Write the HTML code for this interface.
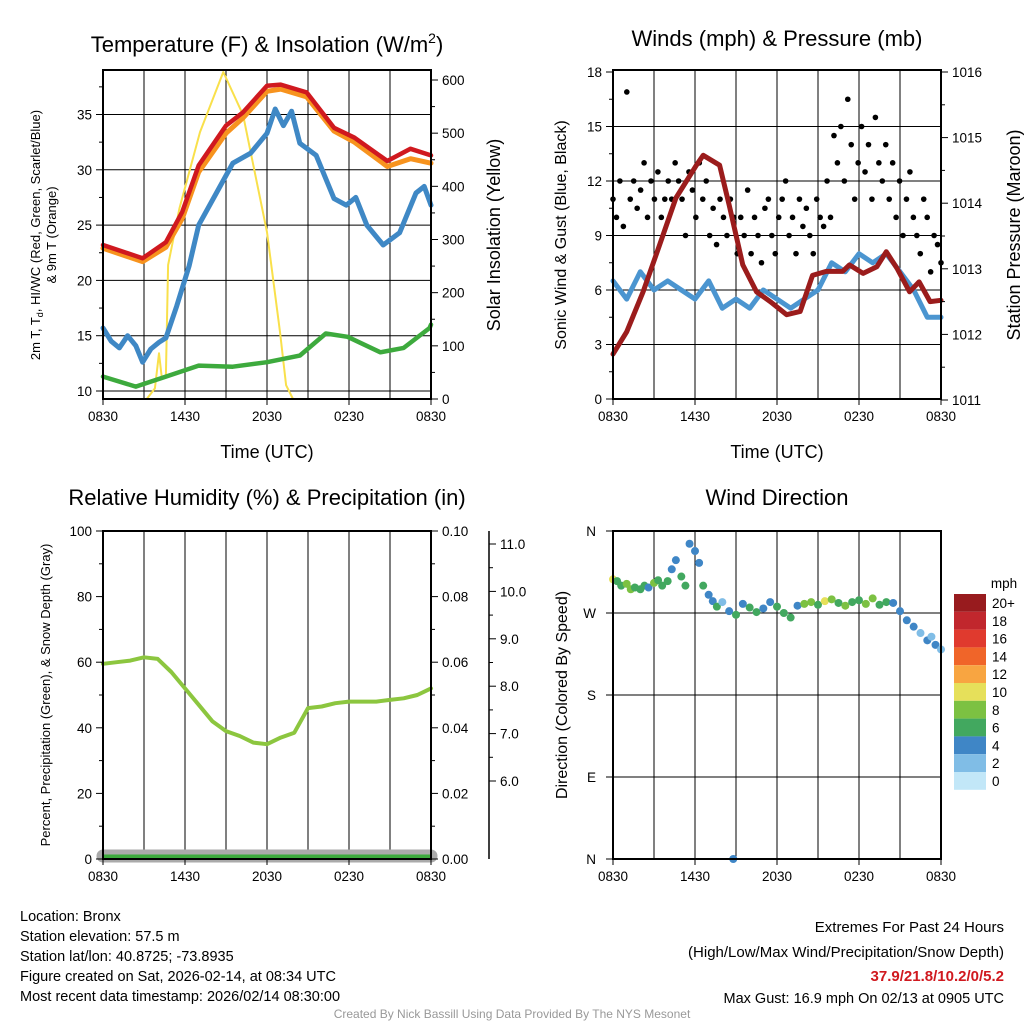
<!DOCTYPE html>
<html><head><meta charset="utf-8"><style>
body{margin:0;background:#fff;}
svg{display:block;font-family:"Liberation Sans",sans-serif;}
</style></head><body>
<svg id="c" width="1024" height="1024" viewBox="0 0 1024 1024"></svg>
<script>
// ---------- DATA ----------
const hoursT=[0,2.9,4.6,5.8,7,9,10.25,12,13,14.9,16.9,18.4,20.8,22.5,24];
const tempRed=[23.2,22.0,23.45,26.2,30.4,34,35.2,37.6,37.7,37,33.8,32.9,30.8,31.9,31.3];
const tempOrange=[22.9,21.7,23.0,25.6,29.8,33.3,34.7,37.1,37.3,36.6,33.5,32.5,30.3,31.0,30.6];
const hoursB=[0,0.6,1.2,1.8,2.4,2.9,3.5,4.1,4.6,5.4,6.3,7,8.3,9.5,10.8,12,12.6,13.2,13.8,14.4,15.6,16.9,17.8,18.5,19.3,20.5,21.7,22.9,23.5,24];
const hiwcBlue=[15.7,14.5,13.9,15,14.1,12.6,13.8,14.4,14.8,17.7,21.3,25,27.9,30.6,31.5,33.3,35.5,34,35.3,32.4,31.3,27.4,26.8,27.5,25,23.2,24.3,27.9,28.5,26.8];
const hoursG=[0,2.4,4.6,7,9.5,12,14.4,16.3,17.9,20.3,22,23.9,24];
const dewGreen=[11.3,10.4,11.3,12.3,12.2,12.6,13.2,15.2,14.9,13.5,13.9,15.7,16];
const hoursS=[0,3.2,3.8,4.1,4.3,4.6,4.76,5.6,7.1,8.8,10.25,12,12.95,13.4,13.9,24];
const solar=[0,0,20,86,40,45,252,359,502,615,534,314,126,26,0,0];
const hoursW=[0,1,2,3,4,5,6,7,8,9,10,11,12,13,14,15,16,17,18,19,20,21,22,23,24];
const windBlue=[6.5,5.5,7,6,6.5,6,5.5,6.5,5,5.5,5,6,5.5,5,5.5,6,7.5,7,8,7.5,8,7,6,4.5,4.5];
const hoursP=[0,1,2.2,3.4,4.6,6.1,6.6,7.8,8.5,9.5,10.5,11.5,12.7,13.7,14.6,15.6,16.8,17.3,18.3,19.3,20,20.8,21.7,22.4,23.2,24];
const pressure=[1011.7,1012.04,1012.65,1013.36,1014.08,1014.58,1014.73,1014.58,1013.97,1013.06,1012.65,1012.5,1012.3,1012.35,1012.9,1012.96,1012.96,1013.06,1012.93,1013.03,1013.26,1013.0,1012.65,1012.8,1012.5,1012.52];
const gusts=[11,10,12,9.5,16.9,11,12,10.5, 11.5,13,10,12,11,12.5,10,11, 12,11,13,12,11,9,12.5,11.5, 10,13,11,12,9,10.5,8.5,11, 10,9,11,10,8,10,9,11.5, 8,10,9,7.5,10.5,11,9,8, 10,11,12,9,10,8,11,9.5, 10.5,9,8,11,10,9.5,12,10, 14.5,13,15,12,16.5,14,11,13, 15,12.5,14,11,15.5,13,12,14, 11,13,10,12,9,11,12.5,10, 9,8,11,10,7,9,8.5,7.5];
const hoursH=[0,1,2,3,4,5,6,7,8,9,10,11,12,13,14,15,16,17,18,19,20,21,22,23,24];
const rh=[59.5,60,60.5,61.5,61,57,52,47,42,39,37.5,35.5,35,37,38.5,46,46.5,47.5,48,48,48,48.5,49,50,52];
const dirTimes=[0,0.3,0.6,1,1.3,1.6,2,2.3,2.6,3,3.3,3.6,4,4.3,4.6,5,5.3,5.6,6,6.3,6.6,7,7.3,7.6,8,8.5,8.8,9,9.5,10,10.5,11,11.5,12,12.5,13,13.5,14,14.5,15,15.5,16,16.5,17,17.5,18,18.5,19,19.5,20,20.5,21,21.5,22,22.5,23,23.3,23.6,24];
const dirs=[307,305,300,302,296,298,296,300,298,303,306,300,305,318,328,310,300,346,338,325,300,290,283,277,282,272,0,268,280,276,271,275,282,277,270,265,278,280,282,279,283,285,281,278,282,284,280,286,279,282,281,272,262,255,248,240,244,235,230];
const dirSpeeds=[10,7,6,8,9,7,6,7,5,8,6,7,6,4,5,7,6,4,5,4,7,5,4,6,3,4,4,6,5,7,6,5,4,6,7,6,5,8,9,7,10,8,6,9,7,6,8,9,7,6,5,4,4,5,3,4,3,4,3];
const cbLabels=["20+","18","16","14","12","10","8","6","4","2","0"];
const cbColors=["#981b1e","#c1272d","#e03a2e","#f06529","#f8a541","#e6e05a","#7cc142","#42a85f","#3f86c6","#80bde6","#c2e7f8"];
const xTicks=["0830","1430","2030","0230","0830"];
// ---------- helpers ----------
const NS="http://www.w3.org/2000/svg";const svg=document.getElementById('c');
function el(tag,attrs,parent,txt){const e=document.createElementNS(NS,tag);for(const k in attrs)e.setAttribute(k,attrs[k]);if(txt!==undefined)e.textContent=txt;(parent||svg).appendChild(e);return e;}
function lin(d0,d1,r0,r1){return v=>r0+(v-d0)*(r1-r0)/(d1-d0);}
function colorFor(s){let i=Math.min(10,Math.floor(s/2));return cbColors[10-i];}
function frame(x0,y0,x1,y1,name){
  const g=el('g',{});
  for(let i=1;i<8;i++){const x=x0+(x1-x0)*i/8;el('line',{x1:x,y1:y0,x2:x,y2:y1,stroke:'#000','stroke-width':1},g);}
  return g;
}
function poly(g,xs,ys,fx,fy,stroke,w,name){
  const pts=xs.map((x,i)=>fx(x).toFixed(1)+','+fy(ys[i]).toFixed(1)).join(' ');
  const p=el('polyline',{points:pts,fill:'none',stroke:stroke,'stroke-width':w,'stroke-linejoin':'round','stroke-linecap':'round'},g);
  return p;
}
function text(x,y,s,size,anchor,parent,extra){const a=Object.assign({x:x,y:y,'font-size':size,'text-anchor':anchor||'middle',fill:'#000'},extra||{});const t=el('text',a,parent,s);return t;}
function xAxis(x0,x1,y,g){xTicks.forEach((l,i)=>{const x=x0+(x1-x0)*i/4;el('line',{x1:x,y1:y,x2:x,y2:y+6,stroke:'#000'},g);const t=text(x,y+22,l,13.5,'middle',g);});}
function yTicks(vals,fy,x,side,g,fmt,minor){vals.forEach(v=>{const y=fy(v);el('line',{x1:x,y1:y,x2:x+(side<0?-7:7),y2:y,stroke:'#000'},g);const t=text(x+(side<0?-11:11),y+5,fmt?fmt(v):String(v),13.5,side<0?'end':'start',g);});
 if(minor)minor.forEach(v=>{const y=fy(v);el('line',{x1:x,y1:y,x2:x+(side<0?-4:4),y2:y,stroke:'#000'},g);});}
// ---------- Panel 1 ----------
(function(){
 const x0=103,x1=431,y0=70,y1=399;const fx=lin(0,24,x0,x1);const fy=lin(10,35,391,114.5);const fs=lin(0,600,399,80);
 const g=frame(x0,y0,x1,y1,'temperature-panel');
 [10,15,20,25,30,35].forEach(v=>el('line',{x1:x0,y1:fy(v),x2:x1,y2:fy(v),stroke:'#000'},g));
 poly(g,hoursS,solar,fx,fs,'#f9e04b',2,'solar-line');
 poly(g,hoursG,dewGreen,fx,fy,'#3daa3d',4.5,'dewpoint-line');
 poly(g,hoursB,hiwcBlue,fx,fy,'#3f88c5',5,'hiwc-line');
 poly(g,hoursT,tempOrange,fx,fy,'#f7931e',5,'temp9m-line');
 poly(g,hoursT,tempRed,fx,fy,'#d0191f',4.5,'temp2m-line');
 el('rect',{x:x0,y:y0,width:x1-x0,height:y1-y0,fill:'none',stroke:'#000','stroke-width':2},g);
 yTicks([10,15,20,25,30,35],fy,x0,-1,g,null,[12.5,17.5,22.5,27.5,32.5,37.5]);
 yTicks([0,100,200,300,400,500,600],fs,x1,1,g,null,[50,150,250,350,450,550]);
 xAxis(x0,x1,y1,g);
 const t=el('text',{x:267,y:52,'font-size':22,'text-anchor':'middle'},g);t.innerHTML='Temperature (F) &amp; Insolation (W/m<tspan dy="-9" font-size="14">2</tspan><tspan dy="9">)</tspan>';
 const xt=text(267,458,'Time (UTC)',18,'middle',g);
 const yl=el('text',{transform:'translate(40,235) rotate(-90)','font-size':13,'text-anchor':'middle'},g);yl.innerHTML='2m T, T<tspan font-size="9" dy="3">d</tspan><tspan dy="-3">, HI/WC (Red, Green, Scarlet/Blue)</tspan>';
 const yl2=text(0,0,'& 9m T (Orange)',13,'middle',g,{transform:'translate(56,235) rotate(-90)'});
 const yr=text(0,0,'Solar Insolation (Yellow)',18,'middle',g,{transform:'translate(500,235) rotate(-90)'});
})();
// ---------- Panel 2 ----------
(function(){
 const x0=613,x1=941,y0=70,y1=399;const fx=lin(0,24,x0,x1);const fy=lin(0,18,399,72);const fp=lin(1011,1016,400,72);
 const g=frame(x0,y0,x1,y1,'wind-panel');
 [3,6,9,12,15].forEach(v=>el('line',{x1:x0,y1:fy(v),x2:x1,y2:fy(v),stroke:'#000'},g));
 poly(g,hoursW,windBlue,fx,fy,'#4b95d0',5,'wind-line');
 gusts.forEach((v,i)=>{const c=el('circle',{cx:fx(i*24/95),cy:fy(v),r:2.8,fill:'#000'},g);});
 poly(g,hoursP,pressure,fx,fp,'#9b1c1c',5,'pressure-line');
 el('rect',{x:x0,y:y0,width:x1-x0,height:y1-y0,fill:'none',stroke:'#000','stroke-width':2},g);
 yTicks([0,3,6,9,12,15,18],fy,x0,-1,g,null,[1.5,4.5,7.5,10.5,13.5,16.5]);
 yTicks([1011,1012,1013,1014,1015,1016],fp,x1,1,g,null,[1011.5,1012.5,1013.5,1014.5,1015.5]);
 xAxis(x0,x1,y1,g);
 const t=text(777,46,'Winds (mph) & Pressure (mb)',22,'middle',g);
 const xt=text(777,458,'Time (UTC)',18,'middle',g);
 const yl=text(0,0,'Sonic Wind & Gust (Blue, Black)',16,'middle',g,{transform:'translate(566,235) rotate(-90)'});
 const yr=text(0,0,'Station Pressure (Maroon)',18,'middle',g,{transform:'translate(1020,235) rotate(-90)'});
})();
// ---------- Panel 3 ----------
(function(){
 const x0=103,x1=431,y0=531,y1=859;const fx=lin(0,24,x0,x1);const fy=lin(0,100,859,531);const fs=lin(6,11,781,544);
 const g=frame(x0,y0,x1,y1,'humidity-panel');
 const sn=el('line',{x1:x0,y1:856,x2:x1,y2:856,stroke:'#aaa','stroke-width':13,'stroke-linecap':'round'},g);
 const pr=el('line',{x1:x0,y1:857,x2:x1,y2:857,stroke:'#3daa3d','stroke-width':5},g);
 poly(g,hoursH,rh,fx,fy,'#8cc63f',4,'rh-line');
 el('rect',{x:x0,y:y0,width:x1-x0,height:y1-y0,fill:'none',stroke:'#000','stroke-width':2},g);
 yTicks([0,20,40,60,80,100],fy,x0,-1,g,null,[10,30,50,70,90]);
 yTicks([0,0.02,0.04,0.06,0.08,0.10],v=>fy(v*1000),x1,1,g,v=>v.toFixed(2),[0.01,0.03,0.05,0.07,0.09]);
 el('line',{x1:489,y1:531,x2:489,y2:859,stroke:'#000','stroke-width':1.5},g);
 yTicks([6,7,8,9,10,11],fs,489,1,g,v=>v.toFixed(1),[6.5,7.5,8.5,9.5,10.5]);
 xAxis(x0,x1,y1,g);
 const t=text(267,505,'Relative Humidity (%) & Precipitation (in)',22,'middle',g);
 const yl=text(0,0,'Percent, Precipitation (Green), & Snow Depth (Gray)',13,'middle',g,{transform:'translate(50,695) rotate(-90)'});
})();
// ---------- Panel 4 ----------
(function(){
 const x0=613,x1=941,y0=531,y1=859;const fx=lin(0,24,x0,x1);const fd=lin(0,360,859,531);
 const g=frame(x0,y0,x1,y1,'wind-direction-panel');
 [90,180,270].forEach(v=>el('line',{x1:x0,y1:fd(v),x2:x1,y2:fd(v),stroke:'#000'},g));
 dirTimes.forEach((t,i)=>{const c=el('circle',{cx:fx(t),cy:fd(dirs[i]),r:4,fill:colorFor(dirSpeeds[i])},g);});
 el('rect',{x:x0,y:y0,width:x1-x0,height:y1-y0,fill:'none',stroke:'#000','stroke-width':2},g);
 [[360,'N'],[270,'W'],[180,'S'],[90,'E'],[0,'N']].forEach(a=>{const y=fd(a[0]);el('line',{x1:x0,y1:y,x2:x0-7,y2:y,stroke:'#000'},g);const t=text(x0-17,y+5,a[1],13.5,'end',g);});
 xAxis(x0,x1,y1,g);
 const t=text(777,505,'Wind Direction',22,'middle',g);
 const yl=text(0,0,'Direction (Colored By Speed)',16,'middle',g,{transform:'translate(567,695) rotate(-90)'});
 const lg=el('g',{},g);
 text(1004,588,'mph',13.5,'middle',lg);
 cbLabels.forEach((l,i)=>{const y=594+i*17.8;el('rect',{x:954,y:y,width:32,height:17.8,fill:cbColors[i]},lg);const tt=text(992,y+14,l,13.5,'start',lg);});
})();
// ---------- Footer ----------
(function(){
 const g=el('g',{});
 ['Location: Bronx','Station elevation: 57.5 m','Station lat/lon: 40.8725; -73.8935','Figure created on Sat, 2026-02-14, at 08:34 UTC','Most recent data timestamp: 2026/02/14 08:30:00'].forEach((s,i)=>text(20,921+i*20,s,14.5,'start',g));
 text(1004,932,'Extremes For Past 24 Hours',15,'end',g);
 text(1004,957,'(High/Low/Max Wind/Precipitation/Snow Depth)',15,'end',g);
 const e=text(1004,981,'37.9/21.8/10.2/0/5.2',15,'end',g,{fill:'#d0191f','font-weight':'bold'});
 text(1004,1003,'Max Gust: 16.9 mph On 02/13 at 0905 UTC',14.5,'end',g);
 text(512,1018,'Created By Nick Bassill Using Data Provided By The NYS Mesonet',12,'middle',g,{fill:'#999'});
})();
</script>
</body></html>
